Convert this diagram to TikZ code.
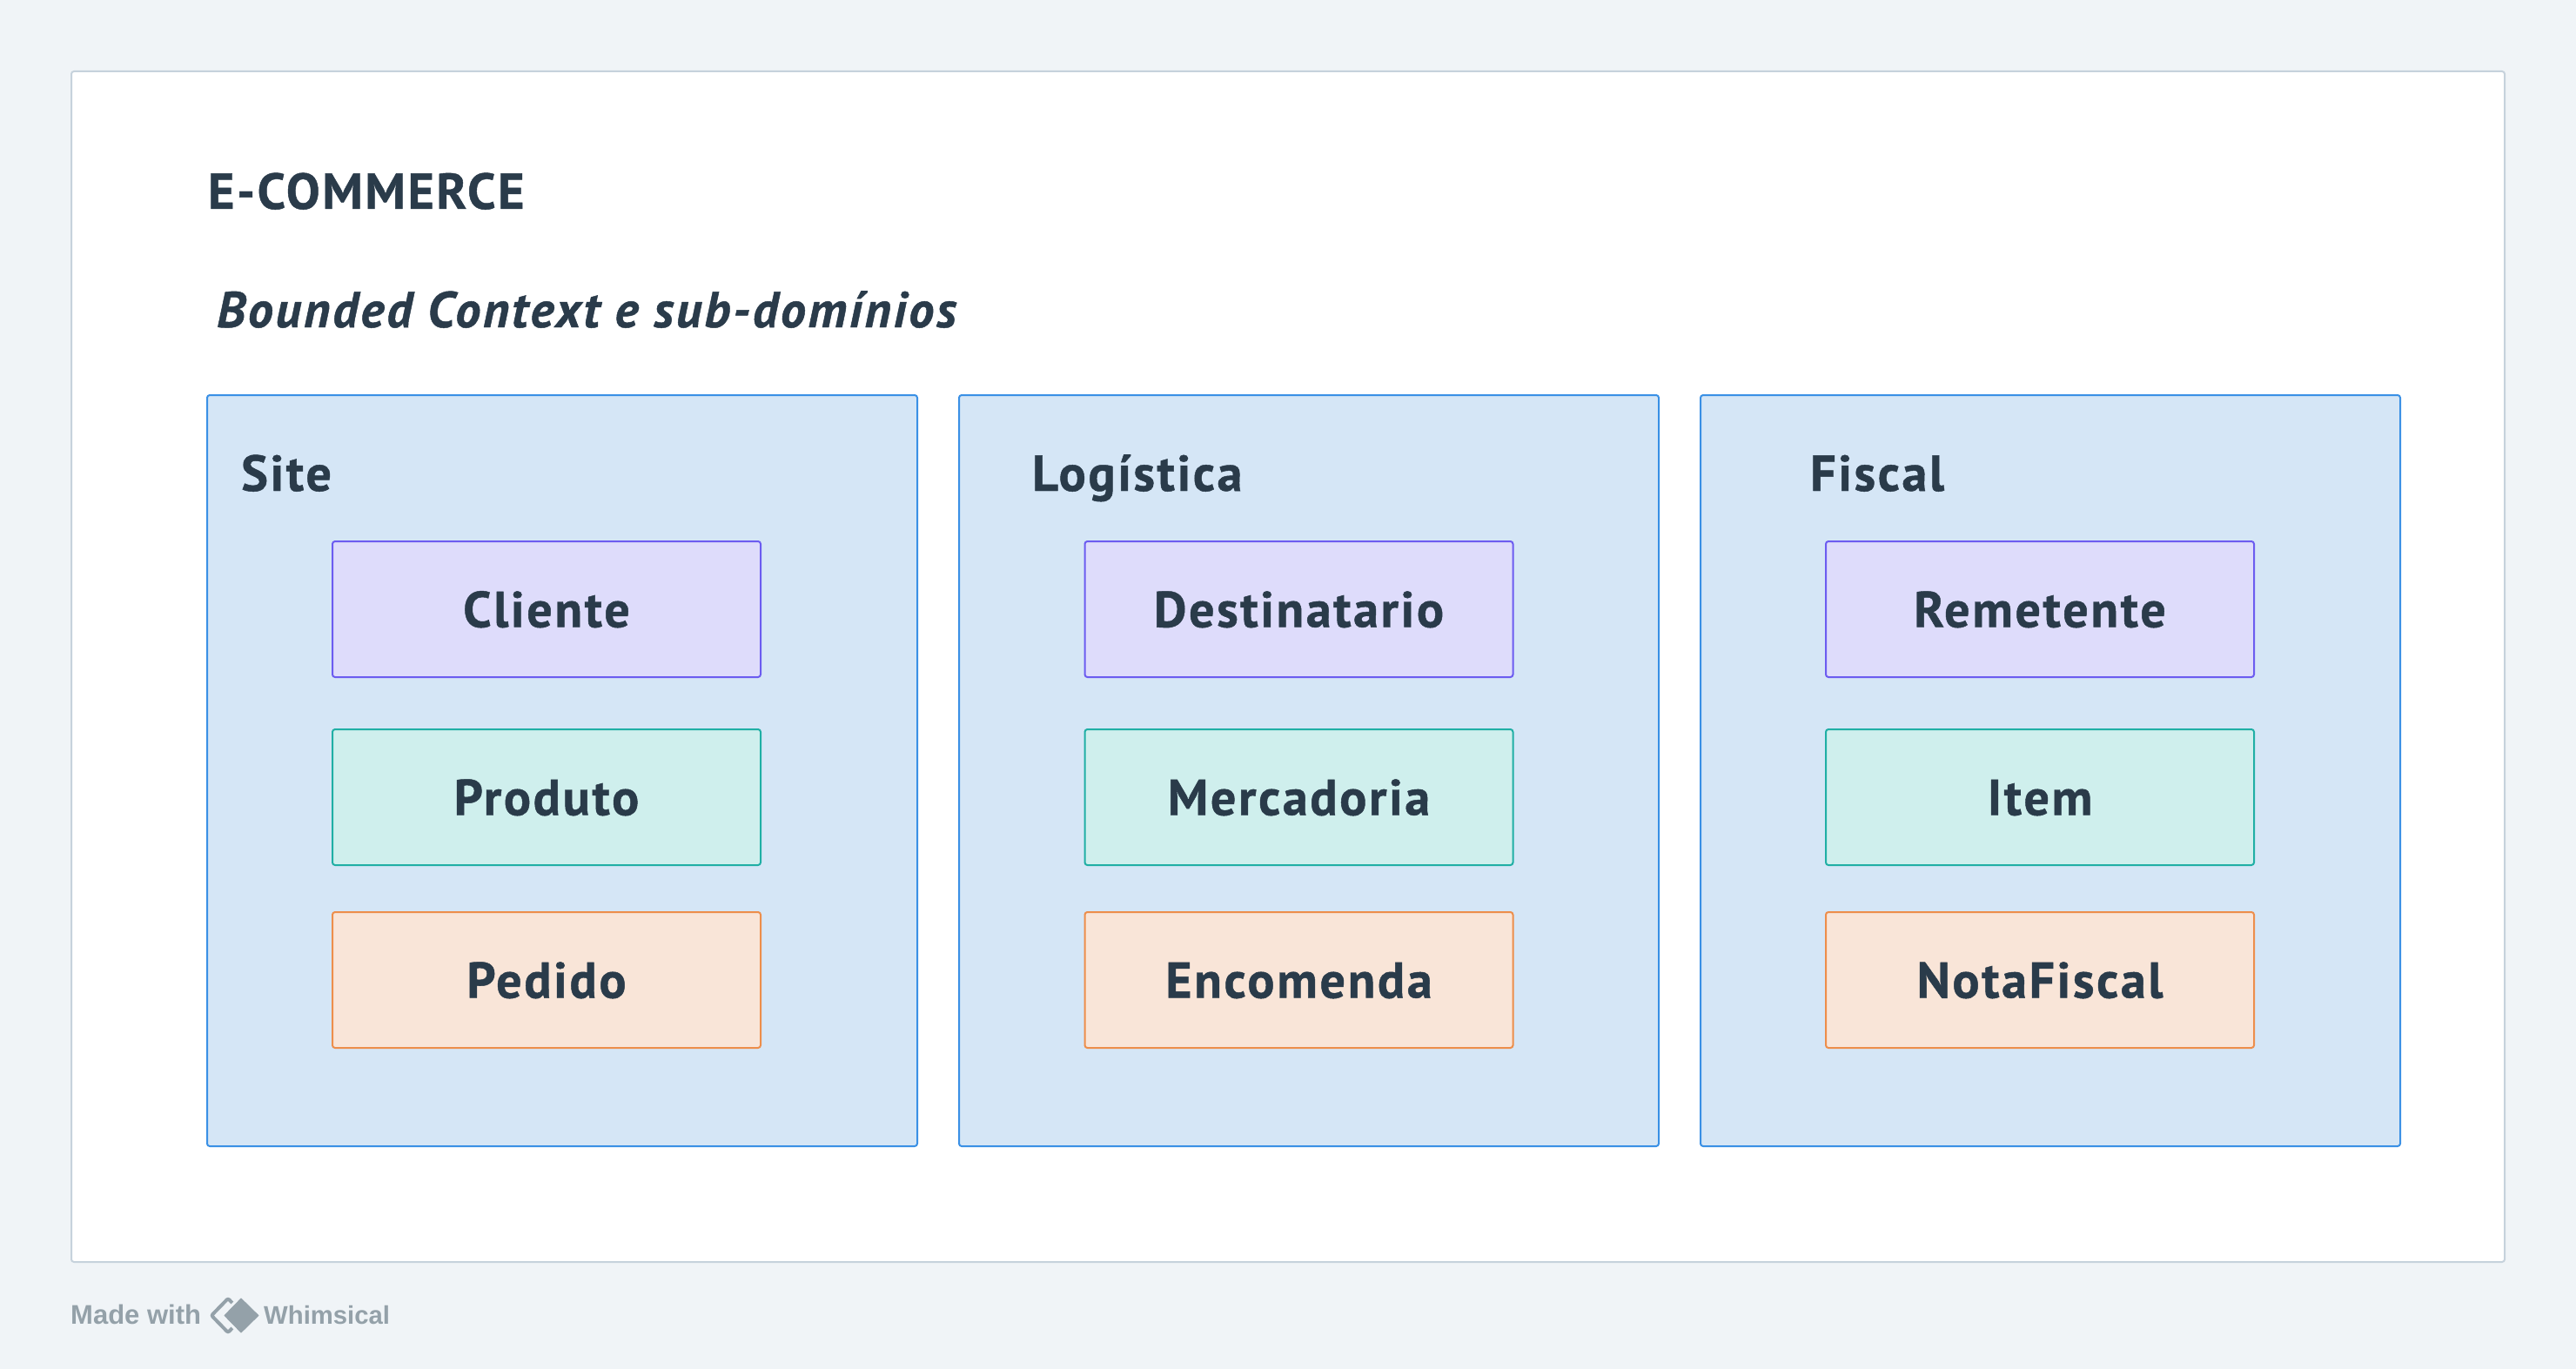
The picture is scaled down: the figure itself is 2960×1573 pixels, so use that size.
\documentclass[tikz,border=0pt]{standalone}
\usepackage{fontspec}
\setmainfont{PT Sans}[BoldFeatures={LetterSpace=4.6,FakeBold=0.8},BoldItalicFeatures={LetterSpace=4.9,FakeBold=0.8}]
\newfontfamily\whimfont{Liberation Sans}
\definecolor{pagebg}{HTML}{F0F4F7}
\definecolor{frameline}{HTML}{C6D2DC}
\definecolor{inktext}{HTML}{2A3B4A}
\definecolor{brandgrey}{HTML}{94A1A9}
\definecolor{panelfill}{HTML}{D5E6F6}
\definecolor{panelline}{HTML}{3A90E5}
\definecolor{purplefill}{HTML}{DEDCFB}
\definecolor{purpleline}{HTML}{6C5CF0}
\definecolor{tealfill}{HTML}{CFEFED}
\definecolor{tealline}{HTML}{20AFA5}
\definecolor{orangefill}{HTML}{F9E5D8}
\definecolor{orangeline}{HTML}{ED8E4B}
\begin{document}
\begin{tikzpicture}[
        x=1pt,y=-1pt,
        panel/.style={draw=panelline,fill=panelfill,rectangle,rounded corners=3pt,line width=2pt,minimum height=863pt,inner sep=0pt},
        entity/.style={rectangle,rounded corners=3pt,line width=2pt,minimum width=492pt,minimum height=156pt,inner sep=0pt,
          text=inktext,font=\fontsize{58}{58}\selectfont\bfseries,text height=41pt,text depth=0pt},
        purple/.style={entity,draw=purpleline,fill=purplefill},
        teal/.style={entity,draw=tealline,fill=tealfill},
        orange/.style={entity,draw=orangeline,fill=orangefill},
        heading/.style={anchor=base west,inner sep=0pt,text=inktext,font=\fontsize{58}{58}\selectfont\bfseries},
        brand/.style={anchor=base west,inner sep=0pt,text=brandgrey,font=\whimfont\fontsize{30}{30}\selectfont\bfseries}
      ]
      \useasboundingbox (0,0) rectangle (2960,1573);
      \fill[pagebg] (0,0) rectangle (2960,1573);
      \draw[frameline,fill=white,line width=2pt,rounded corners=3pt] (82,82) rectangle (2878,1450);

      \node[heading] (title) at (239,240) {E-COMMERCE};
      \node[heading,font=\fontsize{58}{58}\selectfont\bfseries\itshape] (subtitle) at (249,376) {Bounded Context e sub-domínios};

      % panels
      \node[panel,minimum width=816pt] (site) at (646,885.5) {};
      \node[panel,minimum width=804pt] (logistica) at (1504,885.5) {};
      \node[panel,minimum width=804pt] (fiscal) at (2356,885.5) {};
      \node[heading] (sitelabel) at (277,564) {Site};
      \node[heading] (logisticalabel) at (1186,564) {Logística};
      \node[heading] (fiscallabel) at (2080,564) {Fiscal};

      % entities
      \node[purple] (cliente) at (628,700) {Cliente};
      \node[teal] (produto) at (628,916) {Produto};
      \node[orange] (pedido) at (628,1126) {Pedido};
      \node[purple] (destinatario) at (1492.5,700) {Destinatario};
      \node[teal] (mercadoria) at (1492.5,916) {Mercadoria};
      \node[orange] (encomenda) at (1492.5,1126) {Encomenda};
      \node[purple] (remetente) at (2344,700) {Remetente};
      \node[teal] (item) at (2344,916) {Item};
      \node[orange] (notafiscal) at (2344,1126) {NotaFiscal};

      % footer
      \node[brand,font=\whimfont\fontsize{31}{31}\selectfont\bfseries] (madewith) at (81,1521) {Made with};
      \node[brand,font=\whimfont\fontsize{29.3}{30}\selectfont\bfseries] (whimsical) at (303,1521) {Whimsical};
      \draw[brandgrey,line width=4pt,rounded corners=2pt] (243,1511.5) -- (262,1492) -- (281,1511.5) -- (262,1531) -- cycle;
      \draw[fill=brandgrey,line width=3pt,rounded corners=2pt,draw=pagebg] (255,1511.5) -- (277,1489) -- (300,1511.5) -- (277,1534) -- cycle;
    \end{tikzpicture}
\end{document}
